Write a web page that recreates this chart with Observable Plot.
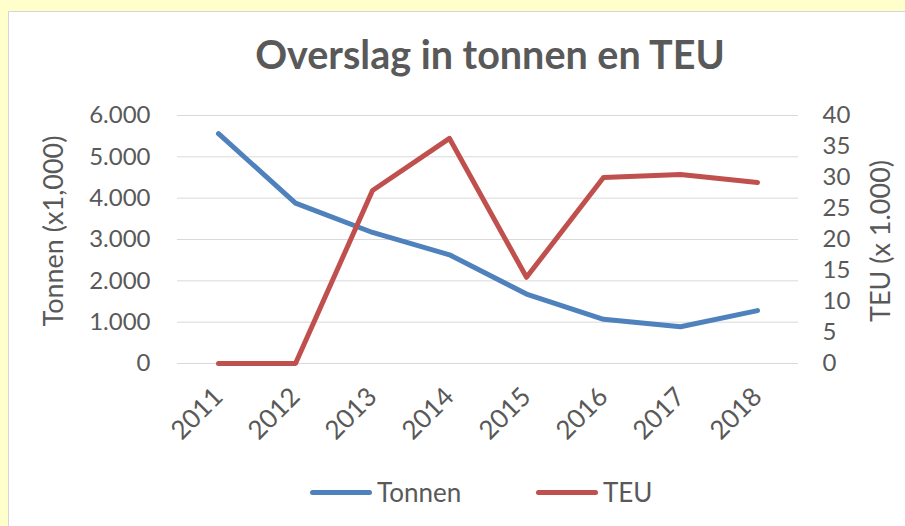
<!DOCTYPE html>
<html>
<head>
<meta charset="utf-8">
<script src="https://cdn.jsdelivr.net/npm/d3@7"></script>
<script src="https://cdn.jsdelivr.net/npm/@observablehq/plot@0.6"></script>
<style>
  html, body { margin: 0; padding: 0; background: #FFFFCC; width: 905px; height: 526px; overflow: hidden; }
  #wrap { position: relative; width: 905px; height: 526px; }
  #panel { position: absolute; left: 8px; top: 11px; right: 0; bottom: 0; background: #fff;
           border-left: 1px solid #d6d6d6; border-top: 1px solid #d6d6d6; }
  #title { position: absolute; left: 75px; width: 830px; top: 30px; text-align: center;
           font-family: Lato, sans-serif; font-weight: bold; font-size: 39.5px; color: #595959; }
  #chart { position: absolute; left: 0; top: 0; }
  .ytitle { position: absolute; width: 300px; height: 34px; line-height: 34px; text-align: center;
            font-family: Lato, sans-serif; font-size: 27px; color: #595959; transform: rotate(-90deg); }
  #legend { position: absolute; left: 0; top: 477px; width: 905px; height: 30px;
            font-family: Lato, sans-serif; font-size: 26px; color: #595959; }
  .item { position: absolute; top: 0; display: flex; align-items: center; height: 30px; }
  .sw { display: inline-block; width: 62px; height: 5px; border-radius: 3px; margin-right: 5px; }
</style>
</head>
<body>
<div id="wrap">
  <div id="panel"></div>
  <div id="chart"></div>
  <div id="title">Overslag in tonnen en TEU</div>
  <div id="ytl" class="ytitle"></div>
  <div id="ytr" class="ytitle"></div>
  <div id="legend"></div>
</div>
<script>
const years = ["2011", "2012", "2013", "2014", "2015", "2016", "2017", "2018"];
const tonnen = [5560, 3880, 3170, 2630, 1680, 1070, 890, 1280];
const teu = [0, 0, 27.9, 36.3, 13.9, 30.0, 30.5, 29.2];
const leftTicks = [0, 1000, 2000, 3000, 4000, 5000, 6000];
const rightTicks = [0, 5, 10, 15, 20, 25, 30, 35, 40];
const seriesNames = ["Tonnen", "TEU"];
const colors = ["#4F81BD", "#C0504D"];
const leftTitle = "Tonnen (x1,000)";
const rightTitle = "TEU (x 1.000)";

const ratio = 6000 / 40;
const rows = years.map((y, i) => ({year: y, tonnen: tonnen[i], teu: teu[i]}));
const fmt = d => d3.format(",")(d).replace(/,/g, ".");

const chart = Plot.plot({
  width: 905,
  height: 460,
  marginLeft: 177,
  marginRight: 107,
  marginTop: 115,
  marginBottom: 97,
  style: {fontFamily: "Lato, sans-serif", fontSize: "24px", color: "#595959", background: "transparent"},
  x: {type: "point", domain: years, padding: 0.5},
  y: {domain: [0, 6000]},
  marks: [
    Plot.gridY(leftTicks, {stroke: "#d9d9d9", strokeOpacity: 1, strokeWidth: 1}),
    Plot.axisY(leftTicks, {anchor: "left", tickSize: 0, tickPadding: 27, tickFormat: fmt, label: null, fill: "#595959", fontSize: 24}),
    Plot.axisY(rightTicks.map(t => t * ratio), {anchor: "right", tickSize: 0, tickPadding: 24, tickFormat: d => String(d / ratio), label: null, fill: "#595959", fontSize: 24}),
    Plot.axisX(years, {tickSize: 0, tickRotate: -45, tickPadding: 29, label: null, fill: "#595959", fontSize: 26}),
    Plot.line(rows, {x: "year", y: "tonnen", stroke: colors[0], strokeWidth: 5, strokeLinecap: "round", strokeLinejoin: "round"}),
    Plot.line(rows, {x: "year", y: d => d.teu * ratio, stroke: colors[1], strokeWidth: 5, strokeLinecap: "round", strokeLinejoin: "round"})
  ]
});
document.getElementById("chart").appendChild(chart);

function placeTitle(id, text, cx, cy) {
  const el = document.getElementById(id);
  el.textContent = text;
  el.style.left = (cx - 150) + "px";
  el.style.top = (cy - 17) + "px";
}
placeTitle("ytl", leftTitle, 53, 231);
placeTitle("ytr", rightTitle, 880, 241);

const legend = document.getElementById("legend");
const lx = [310, 536];
seriesNames.forEach((n, i) => {
  const it = document.createElement("div");
  it.className = "item";
  it.style.left = lx[i] + "px";
  it.innerHTML = `<span class="sw" style="background:${colors[i]}"></span><span>${n}</span>`;
  legend.appendChild(it);
});
</script>
</body>
</html>
